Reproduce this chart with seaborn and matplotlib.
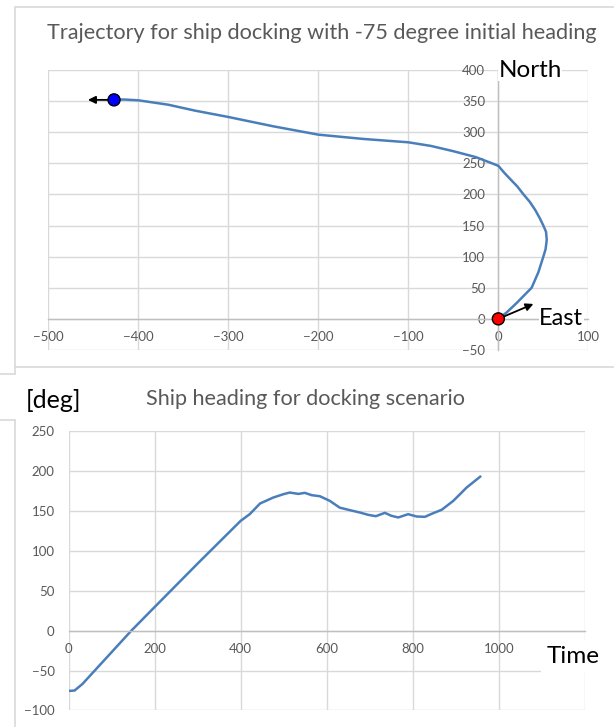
import matplotlib
matplotlib.use("Agg")
import matplotlib.pyplot as plt
from matplotlib.lines import Line2D
import seaborn as sns
import pandas as pd

# trajectory of the ship (east / north, metres)
east = [0, 9, 20, 37, 44.5, 50, 52.5, 53.8, 53, 50, 46, 41, 35, 28, 21, 13, 6.5, 0,
        -7, -25, -50, -75, -100, -150, -200, -250, -300, -337, -367, -400, -415, -427]
north = [0, 10, 25, 50, 75, 100, 112, 127, 140, 150, 162, 175, 188, 200, 213, 225, 235,
         246, 250, 260, 269.5, 278, 283.8, 289.2, 296.1, 309.5, 324.5, 334.7, 344.3,
         351.3, 352.5, 352.5]

# heading over time
time = [0, 14, 32, 146, 200, 300, 400, 421, 445, 476, 499, 514, 534, 549, 565, 584,
        607, 630, 654, 677, 696, 714, 735, 750, 766, 789, 809, 828, 847, 867, 894,
        925, 957]
heading = [-75.5, -75, -67, 0, 29.5, 84, 137.5, 145.8, 159.2, 166.7, 170.8, 172.9,
           171.2, 172.5, 169.6, 168.3, 162.5, 154, 150.8, 147.9, 145, 143.3, 147.5,
           143.8, 141.7, 145.8, 142.9, 142.5, 147, 151.3, 162.5, 179.2, 193]

# start / end markers and their direction arrows
marker_east = [0, -427]
marker_north = [0, 352]
marker_colors = ["#ff0000", "#0000ff"]
arrow_tips = [(39, 24), (-456, 352)]

traj_xticks = [-500, -400, -300, -200, -100, 0, 100]
traj_yticks = [-50, 0, 50, 100, 150, 200, 250, 300, 350, 400]
head_xticks = [0, 200, 400, 600, 800, 1000, 1200]
head_xlabels = ["0", "200", "400", "600", "800", "1000", ""]
head_yticks = [-100, -50, 0, 50, 100, 150, 200, 250]

sns.set_theme(style="white")
plt.rcParams['font.family'] = ['Lato', 'DejaVu Sans']

line_color = "#4a7ebb"
grid_color = "#d9d9d9"
axis_color = "#bfbfbf"
label_color = "#595959"

fig = plt.figure(figsize=(6.14, 7.27), dpi=100)
ax1 = fig.add_axes([0.0787, 0.5186, 0.8795, 0.3851])
ax2 = fig.add_axes([0.1116, 0.0227, 0.8412, 0.3845])


def excel_style(ax, xticks, yticks):
    ax.set_xticks(xticks)
    ax.set_yticks(yticks)
    ax.set_xlim(xticks[0], xticks[-1])
    ax.set_ylim(yticks[0], yticks[-1])
    ax.grid(True, color=grid_color, lw=1.0)
    ax.set_axisbelow(True)
    for s in ["top", "right"]:
        ax.spines[s].set_visible(False)
    for s in ["left", "bottom"]:
        ax.spines[s].set_color(axis_color)
        ax.spines[s].set_linewidth(1.0)
    ax.tick_params(length=0, labelsize=9.5, labelcolor=label_color)
    ax.tick_params(axis="x", pad=9)
    ax.tick_params(axis="y", pad=9.5)
    ax.set_xlabel("")
    ax.set_ylabel("")


# top: trajectory
traj = pd.DataFrame({"east": east, "north": north})
sns.lineplot(data=traj, x="east", y="north", sort=False, estimator=None,
             color=line_color, lw=1.8, ax=ax1, zorder=3)
excel_style(ax1, traj_xticks, traj_yticks)
ax1.spines["left"].set_position(("data", 0))
ax1.spines["bottom"].set_position(("data", 0))

for i in range(2):
    ax1.annotate("", xy=arrow_tips[i], xytext=(marker_east[i], marker_north[i]),
                 arrowprops=dict(arrowstyle="-|>", color="black", lw=1.3,
                                 mutation_scale=11, shrinkA=0, shrinkB=0),
                 zorder=4)
sns.scatterplot(x=marker_east, y=marker_north, hue=marker_colors,
                palette=dict(zip(marker_colors, marker_colors)), s=75,
                edgecolor="black", linewidth=1.0, legend=False, ax=ax1, zorder=5)
ax1.set_xlabel("")
ax1.set_ylabel("")

ax1.text(0, 400, "North", ha="left", va="center", fontsize=17.5, color="black",
         bbox=dict(facecolor="white", edgecolor="none", pad=0.5), zorder=6)
ax1.text(70, 0, "East", ha="center", va="center", fontsize=17, color="black",
         bbox=dict(facecolor="white", edgecolor="none", pad=0.5), zorder=6)
fig.text(322 / 614, 1 - 33 / 727, "Trajectory for ship docking with -75 degree initial heading",
         ha="center", va="center", fontsize=15.6, color=label_color)

# bottom: heading
head = pd.DataFrame({"time": time, "heading": heading})
sns.lineplot(data=head, x="time", y="heading", color=line_color, lw=1.8, ax=ax2)
excel_style(ax2, head_xticks, head_yticks)
ax2.set_xticklabels(head_xlabels)
ax2.spines["left"].set_visible(False)
ax2.spines["bottom"].set_position(("data", 0))
ax2.tick_params(axis="y", pad=10)

ax2.text(1173, -33, "Time", ha="center", va="center", fontsize=17.5, color="black",
         bbox=dict(facecolor="white", edgecolor="none", pad=4), zorder=6, clip_on=False)
fig.text(306 / 614, 1 - 399 / 727, "Ship heading for docking scenario",
         ha="center", va="center", fontsize=15.6, color=label_color)
fig.text(53 / 614, 1 - 400 / 727, "[deg]", ha="center", va="center",
         fontsize=18, color="black")

# chart-area frames (screenshot borders)
W, H = 614, 727
frame = [
    ((15, 15), (6.7, 374)),
    ((15, 614), (6.7, 6.7)),
    ((15, 614), (367.5, 367.5)),
    ((0, 15), (374, 374)),
    ((0, 15), (420, 420)),
    ((15, 15), (420, 727)),
]
for xs, ys in frame:
    fig.add_artist(Line2D([x / W for x in xs], [1 - y / H for y in ys],
                          color=grid_color, lw=1.2, transform=fig.transFigure))

fig.savefig("out.png", dpi=100)
